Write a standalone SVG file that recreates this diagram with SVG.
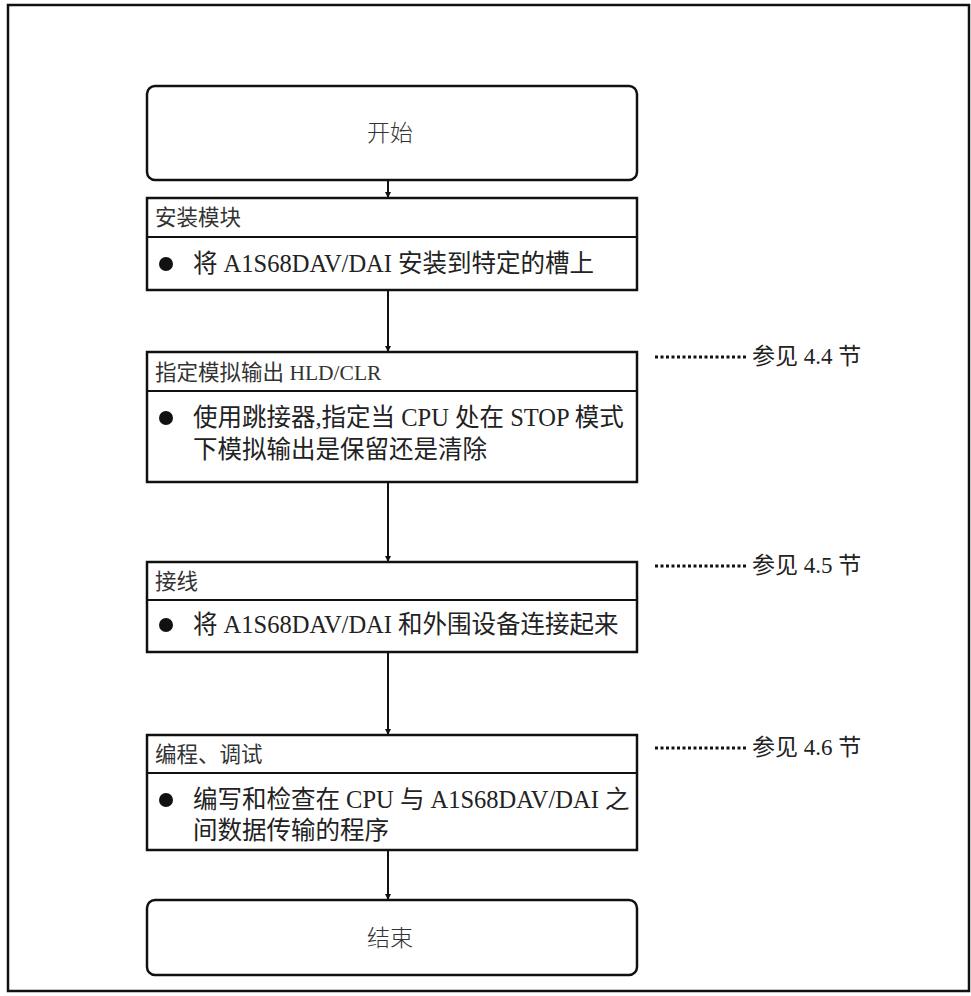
<svg xmlns="http://www.w3.org/2000/svg" width="971" height="996" viewBox="0 0 971 996">
<defs>
<marker id="ah" viewBox="0 0 10 10" refX="10" refY="5" markerWidth="6" markerHeight="6" orient="auto" markerUnits="userSpaceOnUse"><path d="M0,0 L10,5 L0,10 z" fill="#111"/></marker>
<style>
.box{fill:#fff;stroke:#111;stroke-width:2.5}
.ln{stroke:#111;stroke-width:2;fill:none}
.t{font-family:"Liberation Serif","Noto Sans CJK SC",serif;font-size:24.5px;fill:#222}
.h{font-family:"Liberation Serif","Noto Sans CJK SC",serif;font-size:21.5px;fill:#333}
.r{font-family:"Liberation Serif","Noto Sans CJK SC",serif;font-size:23px;fill:#222}
.tt{font-family:"Noto Sans CJK SC",sans-serif;font-size:23px;fill:#333;font-weight:300}
.dot{stroke:#111;stroke-width:3;stroke-dasharray:3 2.5;fill:none}
</style>
</defs>
<rect x="8" y="5" width="961" height="986" fill="none" stroke="#111" stroke-width="2.5"/>
<g id="connectors">
<line class="ln" x1="388" y1="180" x2="388" y2="198" marker-end="url(#ah)"/>
<line class="ln" x1="388" y1="290" x2="388" y2="352" marker-end="url(#ah)"/>
<line class="ln" x1="388" y1="482" x2="388" y2="562" marker-end="url(#ah)"/>
<line class="ln" x1="388" y1="652" x2="388" y2="735" marker-end="url(#ah)"/>
<line class="ln" x1="388" y1="850" x2="388" y2="900" marker-end="url(#ah)"/>
</g>
<g id="start">
<rect class="box" x="147" y="86" width="490" height="94" rx="8"/>
<text class="tt" x="390" y="141" text-anchor="middle">开始</text>
</g>
<g id="step1">
<rect class="box" x="147" y="198" width="490" height="92"/>
<line class="ln" x1="147" y1="237" x2="637" y2="237"/>
<text class="h" x="155" y="225">安装模块</text>
<circle cx="166" cy="264" r="7" fill="#111"/>
<text class="t" x="193" y="272">将 A1S68DAV/DAI 安装到特定的槽上</text>
</g>
<g id="step2">
<rect class="box" x="147" y="352" width="490" height="130"/>
<line class="ln" x1="147" y1="391" x2="637" y2="391"/>
<text class="h" x="155" y="380">指定模拟输出 HLD/CLR</text>
<circle cx="166" cy="418" r="7" fill="#111"/>
<text class="t" x="193" y="426">使用跳接器,指定当 CPU 处在 STOP 模式</text>
<text class="t" x="193" y="458">下模拟输出是保留还是清除</text>
</g>
<g id="ref1">
<line class="dot" x1="655" y1="357" x2="746" y2="357"/>
<text class="r" x="752" y="364">参见 4.4 节</text>
</g>
<g id="step3">
<rect class="box" x="147" y="562" width="490" height="90"/>
<line class="ln" x1="147" y1="600" x2="637" y2="600"/>
<text class="h" x="155" y="589">接线</text>
<circle cx="166" cy="625" r="7" fill="#111"/>
<text class="t" x="193" y="633">将 A1S68DAV/DAI 和外围设备连接起来</text>
</g>
<g id="ref2">
<line class="dot" x1="655" y1="566" x2="746" y2="566"/>
<text class="r" x="752" y="573">参见 4.5 节</text>
</g>
<g id="step4">
<rect class="box" x="147" y="735" width="490" height="115"/>
<line class="ln" x1="147" y1="773" x2="637" y2="773"/>
<text class="h" x="155" y="762">编程、调试</text>
<circle cx="166" cy="800" r="7" fill="#111"/>
<text class="t" x="193" y="808">编写和检查在 CPU 与 A1S68DAV/DAI 之</text>
<text class="t" x="193" y="839">间数据传输的程序</text>
</g>
<g id="ref3">
<line class="dot" x1="655" y1="748" x2="746" y2="748"/>
<text class="r" x="752" y="755">参见 4.6 节</text>
</g>
<g id="end">
<rect class="box" x="147" y="900" width="490" height="75" rx="8"/>
<text class="tt" x="390" y="946" text-anchor="middle">结束</text>
</g>
</svg>
